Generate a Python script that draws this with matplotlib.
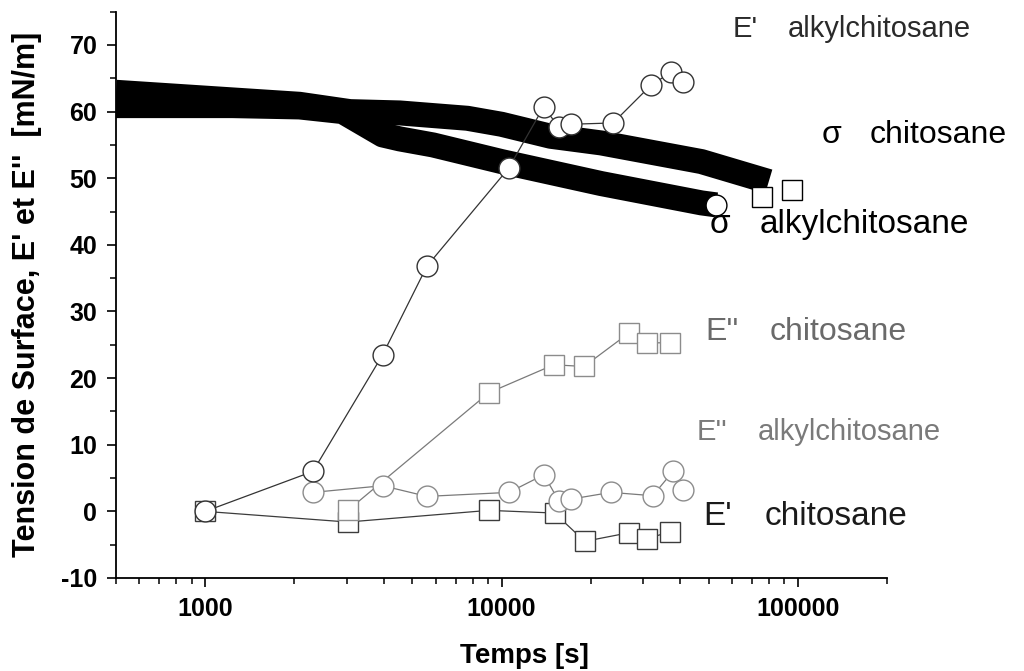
import numpy as np
import matplotlib
matplotlib.use("Agg")
import matplotlib.pyplot as plt
from matplotlib.ticker import MultipleLocator, LogLocator, NullFormatter, FixedLocator

plt.rcParams['font.family'] = ['Liberation Sans', 'DejaVu Sans']
plt.rcParams['axes.unicode_minus'] = False

# surface tension (dense runs of points, shown as thick bands)
sig_chito_t = [500, 2080, 3080, 4540, 7670, 10000, 14650, 21700, 47300, 79800]
sig_chito_v = [62.9, 61.1, 60.0, 59.8, 59.0, 58.1, 56.3, 55.3, 52.5, 49.5]
sig_chito_end_t = [75500, 95500]
sig_chito_end_v = [47.2, 48.2]

sig_alkyl_t = [500, 1235, 2080, 2910, 3970, 4540, 5870, 10000, 21700, 47300, 53100]
sig_alkyl_v = [60.9, 60.9, 60.7, 60.0, 56.5, 55.9, 55.0, 52.5, 49.2, 46.3, 46.0]
sig_alkyl_end_t = [53100]
sig_alkyl_end_v = [46.0]

# E' alkylchitosane
e1_alkyl_t = [1000, 2310, 3970, 5600, 10570, 13870, 15600, 17100, 23800, 32000, 37400, 41100]
e1_alkyl_v = [0.0, 6.0, 23.5, 36.8, 51.5, 60.7, 57.7, 58.1, 58.3, 64.0, 65.9, 64.4]

# E'' alkylchitosane
e2_alkyl_t = [2310, 3970, 5600, 10600, 13900, 15640, 17200, 23400, 32400, 37900, 40900]
e2_alkyl_v = [2.85, 3.85, 2.25, 2.85, 5.5, 1.5, 1.85, 2.85, 2.35, 6.0, 3.25]

# E' chitosane
e1_chito_t = [1000, 3030, 9060, 15100, 19100, 26980, 31000, 37100]
e1_chito_v = [0.0, -1.6, 0.15, -0.25, -4.5, -3.2, -4.1, -3.05]

# E'' chitosane
e2_chito_t = [3030, 9060, 15000, 19000, 26980, 31000, 37100]
e2_chito_v = [0.15, 17.8, 22.0, 21.75, 26.8, 25.3, 25.3]

fig = plt.figure(figsize=(10.24, 6.71), dpi=100)
ax = fig.add_axes([0.1133, 0.1386, 0.7529, 0.8440])

# bands
ax.plot(sig_chito_t, sig_chito_v, color='black', lw=18, solid_capstyle='butt', zorder=2)
ax.plot(sig_alkyl_t, sig_alkyl_v, color='black', lw=18, solid_capstyle='butt', zorder=2)
ax.plot(sig_chito_end_t, sig_chito_end_v, 's', ms=14, mfc='white', mec='black', mew=1.0, zorder=3)
ax.plot(sig_alkyl_end_t, sig_alkyl_end_v, 'o', ms=15, mfc='white', mec='black', mew=1.0, zorder=3)

# moduli
ax.plot(e1_chito_t, e1_chito_v, '-s', color='#3c3c3c', lw=0.9, ms=14, mfc='white', mec='#3c3c3c', mew=1.0, zorder=4)
ax.plot(e2_chito_t, e2_chito_v, '-s', color='#7a7a7a', lw=0.9, ms=14, mfc='white', mec='#8c8c8c', mew=1.0, zorder=4)
ax.plot(e2_alkyl_t, e2_alkyl_v, '-o', color='#7a7a7a', lw=0.9, ms=15, mfc='white', mec='#8c8c8c', mew=1.0, zorder=5)
ax.plot(e1_alkyl_t, e1_alkyl_v, '-o', color='#333333', lw=0.9, ms=15, mfc='white', mec='#333333', mew=1.0, zorder=6)

ax.set_xscale('log')
ax.set_xlim(500, 200000)
ax.set_ylim(-10, 75)
ax.xaxis.set_major_locator(FixedLocator([1000, 10000, 100000]))
ax.xaxis.set_minor_locator(LogLocator(base=10, subs=np.arange(2, 10)))
ax.xaxis.set_minor_formatter(NullFormatter())
ax.set_xticklabels(['1000', '10000', '100000'])
ax.yaxis.set_major_locator(MultipleLocator(10))
ax.yaxis.set_minor_locator(MultipleLocator(5))

for s in ['top', 'right']:
    ax.spines[s].set_visible(False)
for s in ['left', 'bottom']:
    ax.spines[s].set_linewidth(1.3)

ax.tick_params(which='major', direction='out', length=6.5, width=1.2, labelsize=18, pad=7)
ax.tick_params(which='minor', direction='out', length=4.3, width=1.1)
for lab in ax.get_xticklabels() + ax.get_yticklabels():
    lab.set_fontweight('bold')

ax.set_xlabel('Temps [s]', fontsize=20, fontweight='bold', va='baseline')
ax.xaxis.set_label_coords(0.53, -0.1507)
ax.set_ylabel("Tension de Surface, E' et E''  [mN/m]", fontsize=22, fontweight='bold', va='center')
ax.yaxis.set_label_coords(-0.1154, 0.5)

# curve labels: (prefix, word, prefix x, word x, baseline y, size, colour)
def label(prefix, word, px, wx, by, size, color):
    fig.text(px / 1024, 1 - by / 671, prefix, fontsize=size, color=color, va='baseline', ha='left')
    fig.text(wx / 1024, 1 - by / 671, word, fontsize=size, color=color, va='baseline', ha='left')

label("E'", 'alkylchitosane', 733, 788, 37, 21, '#2a2a2a')
label('\u03c3', 'chitosane', 822, 870, 143, 23, 'black')
label('\u03c3', 'alkylchitosane', 710, 760, 233, 24, 'black')
label("E''", 'chitosane', 705, 770, 340, 23, '#6a6a6a')
label("E''", 'alkylchitosane', 697, 758, 440, 21, '#7a7a7a')
label("E'", 'chitosane', 703, 765, 525, 24, '#1a1a1a')

fig.savefig('out.png', dpi=100)
